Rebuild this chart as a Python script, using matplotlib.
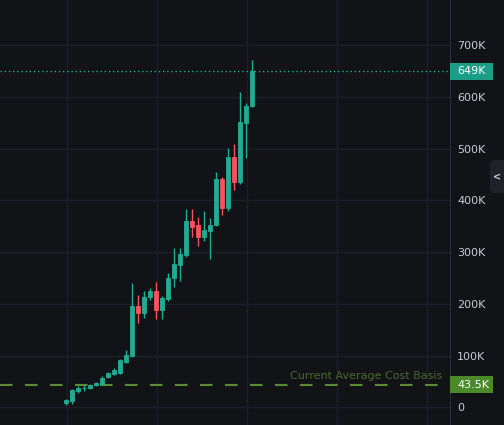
import numpy as np
import matplotlib
matplotlib.use("Agg")
import matplotlib.pyplot as plt
import matplotlib.transforms as mtransforms
from matplotlib.patches import Rectangle, FancyBboxPatch

###
# DATA (values in thousands)
###
opens  = [8.7, 12.5, 31.9, 37.0, 37.6, 43.4, 45.4, 58.9, 64.7, 66.6, 87.8,
          100, 196, 183, 213, 225, 188, 209, 250, 275, 294, 361,
          352, 330, 340, 353, 442, 386, 484, 436, 549, 583]
closes = [14.5, 33.8, 37.6, 38.5, 43.4, 47.3, 57.0, 66.6, 72.4, 91.7, 101,
          196, 183, 213, 225, 188, 211, 250, 277, 296, 361, 349,
          330, 342, 353, 442, 386, 484, 436, 552, 583, 649]
highs  = [16, 36, 42, 43, 46, 49, 60, 68, 76, 93, 111,
          240, 217, 225, 230, 242, 215, 260, 308, 308, 384, 384,
          367, 380, 365, 454, 445, 501, 509, 609, 587, 671]
lows   = [5, 6, 28, 32, 36, 41, 44, 56, 62, 65, 86,
          98, 163, 173, 208, 170, 170, 205, 232, 245, 290, 330,
          311, 322, 286, 350, 372, 380, 419, 432, 482, 580]
yticks = [0, 100, 200, 300, 400, 500, 600, 700]
ytick_labels = ["0", "100K", "200K", "300K", "400K", "500K", "600K", "700K"]
cost_basis = 43.5
last_price = closes[-1]
grid_x = [0.2, 15.2, 30.2, 45.2, 60.2]

###
# STYLE
###
bg = "#121317"
grid_c = "#1c1f25"
up_c = "#22ab94"
down_c = "#f7525f"
basis_c = "#5b8c33"
text_c = "#c9ccd3"

fig = plt.figure(figsize=(5.04, 4.25), dpi=100, facecolor=bg)
ax = fig.add_axes([0, 0, 450 / 504, 1])
ax.set_facecolor(bg)

x = np.arange(len(opens))
o = np.array(opens)
c = np.array(closes)
colors = [up_c if cc >= oo else down_c for oo, cc in zip(o, c)]

## grid
for v in yticks:
    ax.axhline(v, color=grid_c, lw=1, zorder=0)
for gx in grid_x:
    ax.axvline(gx, color=grid_c, lw=1, zorder=0)

## cost basis line + label
ax.axhline(cost_basis, color=basis_c, lw=1.5, dashes=(6, 6), zorder=1)
ax.annotate("Current Average Cost Basis", xy=(0.982, cost_basis),
            xycoords=mtransforms.blended_transform_factory(ax.transAxes, ax.transData),
            xytext=(0, 3), textcoords="offset points", ha="right", va="bottom",
            color="#44692c", fontsize=8)

## candles
ax.vlines(x, lows, highs, colors=colors, lw=1, zorder=2)
ax.bar(x, np.abs(c - o), bottom=np.minimum(o, c), width=0.72, color=colors,
       edgecolor=colors, lw=0.6, zorder=3)

## last price dotted line
ax.axhline(last_price, color=up_c, lw=1, dashes=(1, 2), zorder=1)

ax.set_xlim(-11, 64)
ax.set_ylim(-33.8, 786.7)
ax.set_xticks([])
ax.yaxis.tick_right()
ax.set_yticks(yticks)
ax.set_yticklabels(ytick_labels)
ax.tick_params(axis="y", length=0, pad=5, labelcolor=text_c, labelsize=8)
for s in ["top", "left", "bottom"]:
    ax.spines[s].set_visible(False)
ax.spines["right"].set_color("#2a2d35")

## price tags on the axis
trans = mtransforms.blended_transform_factory(ax.transAxes, ax.transData)
for val, lab, fc in [(last_price, "649K", "#1a9e86"), (cost_basis, "43.5K", "#4b8a2b")]:
    ax.add_patch(Rectangle((1.0, val - 16.4), 43 / 450, 32.8, transform=trans,
                           facecolor=fc, edgecolor="none", clip_on=False, zorder=5))
    ax.text(1.0 + 7 / 450, val, lab, transform=trans, ha="left", va="center",
            color="white", fontsize=8, clip_on=False, zorder=6)

## collapse button at right edge
fig.patches.append(FancyBboxPatch((490 / 504, 1 - 193 / 425), 20 / 504, 33 / 425,
                                  boxstyle="round,pad=0,rounding_size=0.01",
                                  transform=fig.transFigure, facecolor="#1f2127",
                                  edgecolor="none"))
fig.text(497 / 504, 1 - 177 / 425, "<", color=text_c, fontsize=7,
         ha="center", va="center", fontweight="bold")

plt.savefig("out.png", dpi=100, facecolor=bg)
